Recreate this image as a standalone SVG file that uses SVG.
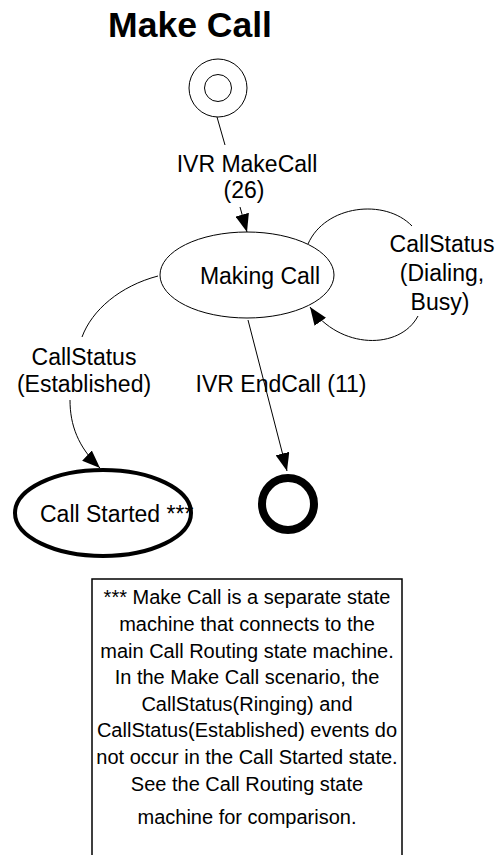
<svg xmlns="http://www.w3.org/2000/svg" width="498" height="855" viewBox="0 0 498 855">
<style>
text{font-family:"Liberation Sans",Arial,sans-serif;fill:#000}
.lbl{font-size:23px;text-anchor:middle}
.note{font-size:20px;text-anchor:middle}
.thin{fill:none;stroke:#000;stroke-width:1}
</style>
<defs>
<marker id="ah" markerUnits="userSpaceOnUse" markerWidth="18" markerHeight="14" refX="18" refY="7" orient="auto">
<path d="M0,0 L18,7 L0,14 Z" fill="#000"/>
</marker>
</defs>
<rect width="498" height="855" fill="#fff"/>
<text x="190" y="37" style="font-size:35.5px;font-weight:bold;text-anchor:middle">Make Call</text>
<g id="connectors">
<path class="thin" d="M217,117 L225,145"/>
<path class="thin" d="M240,207 L247,232" marker-end="url(#ah)"/>
<path class="thin" d="M308,244 C325,205 385,198 412,226"/>
<path class="thin" d="M418,316 C400,350 340,350 310,307" marker-end="url(#ah)"/>
<path class="thin" d="M158,276 C120,286 92,310 82,337"/>
<path class="thin" d="M70,400 C70,425 78,447 100,468" marker-end="url(#ah)"/>
<path class="thin" d="M248,320 L287,471" marker-end="url(#ah)"/>
</g>
<g id="labels">
<text class="lbl" x="247" y="172">IVR MakeCall</text>
<text class="lbl" x="244" y="198">(26)</text>
<text class="lbl" x="442" y="252">CallStatus</text>
<text class="lbl" x="442" y="281">(Dialing,</text>
<text class="lbl" x="440" y="310">Busy)</text>
<text class="lbl" x="84" y="365">CallStatus</text>
<text class="lbl" x="84" y="392">(Established)</text>
<text class="lbl" x="281" y="392">IVR EndCall (11)</text>
</g>
<g id="initial">
<circle class="thin" cx="218" cy="88" r="29"/>
<circle class="thin" cx="218" cy="88" r="13.5"/>
</g>
<g id="making-call">
<ellipse class="thin" cx="247" cy="275" rx="87" ry="43"/>
<text class="lbl" x="260" y="284">Making Call</text>
</g>
<g id="call-started">
<ellipse cx="103" cy="513" rx="88" ry="43" fill="none" stroke="#000" stroke-width="4"/>
<text x="40" y="522" style="font-size:23px">Call Started ***</text>
</g>
<g id="final">
<circle cx="288" cy="504" r="26" fill="none" stroke="#000" stroke-width="8"/>
</g>
<g id="note">
<rect x="92" y="579" width="310" height="300" fill="#fff" stroke="#000" stroke-width="1.5"/>
<text class="note" x="247" y="604">*** Make Call is a separate state</text>
<text class="note" x="247" y="631">machine that connects to the</text>
<text class="note" x="247" y="658">main Call Routing state machine.</text>
<text class="note" x="247" y="684">In the Make Call scenario, the</text>
<text class="note" x="247" y="711">CallStatus(Ringing) and</text>
<text class="note" x="247" y="737">CallStatus(Established) events do</text>
<text class="note" x="247" y="764">not occur in the Call Started state.</text>
<text class="note" x="247" y="791">See the Call Routing state</text>
<text class="note" x="247" y="824">machine for comparison.</text>
</g>
</svg>
